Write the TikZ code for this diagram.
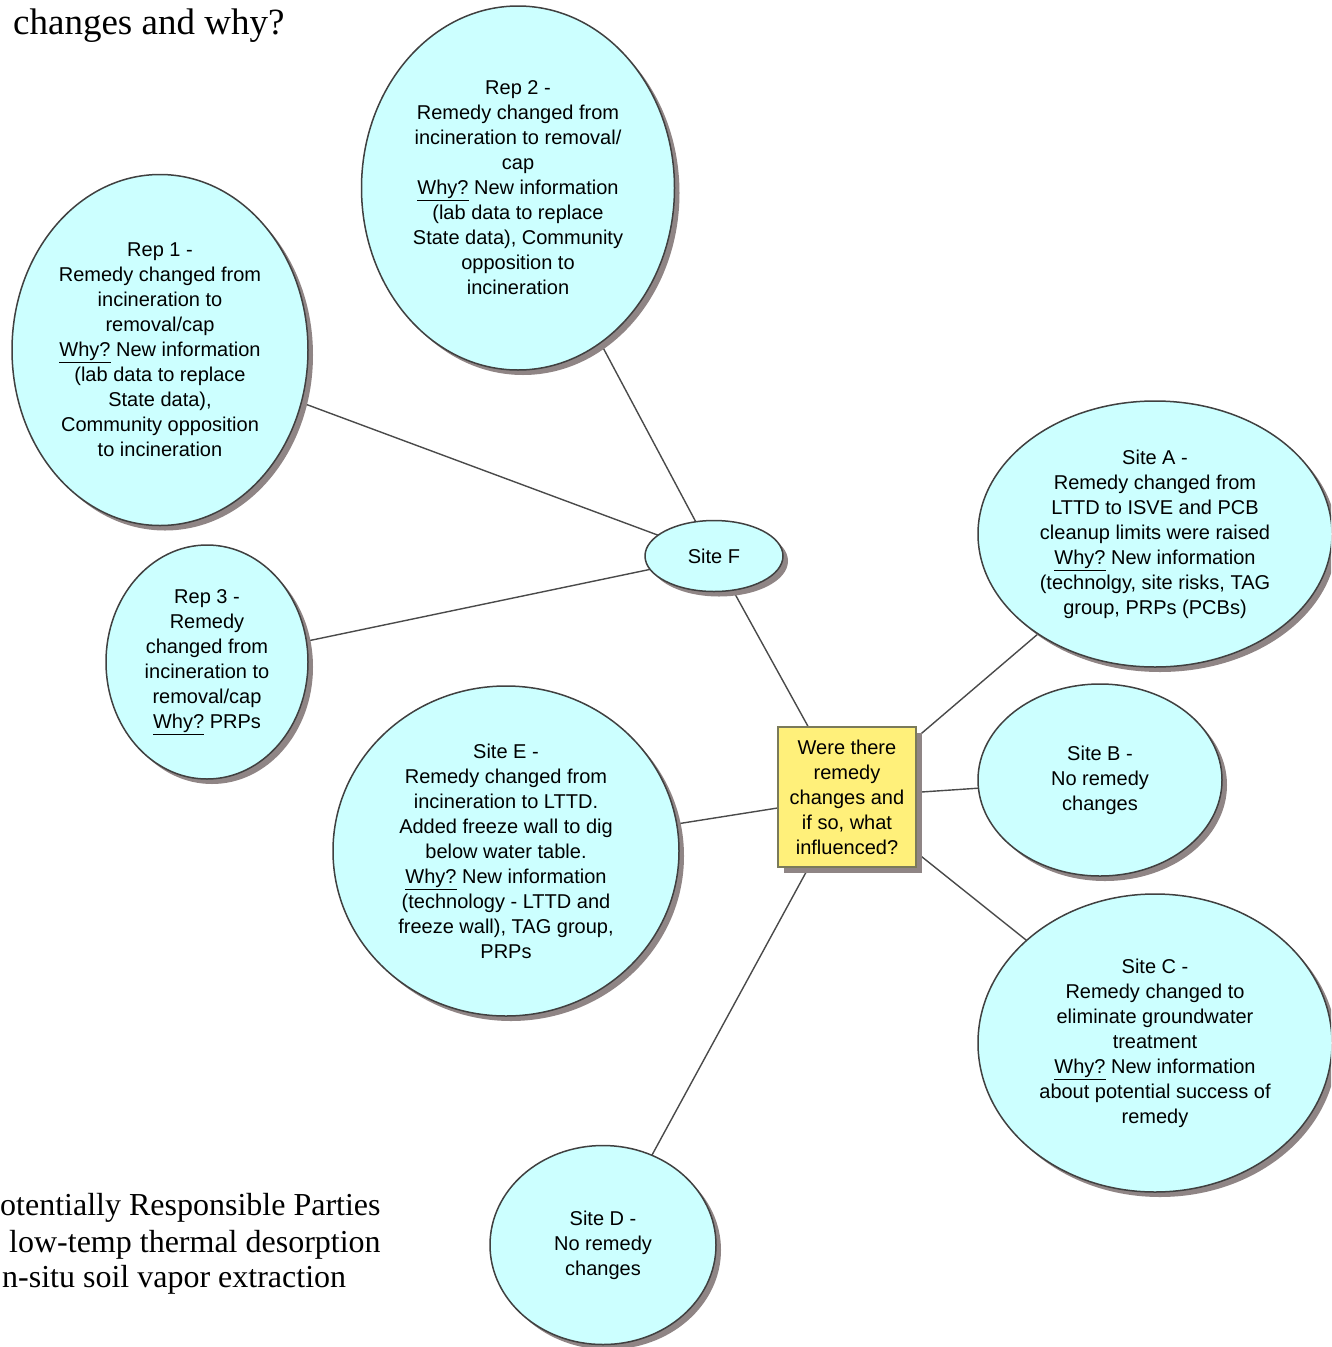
\documentclass[tikz,border=0pt]{standalone}
\usepackage{fontspec}
\setmainfont{Liberation Sans}
\newfontfamily\serifface{Liberation Serif}
\usetikzlibrary{shapes.geometric,shadows,backgrounds}

\definecolor{bubblefill}{HTML}{CCFFFF}
\definecolor{bubbleline}{HTML}{404040}
\definecolor{shadowgray}{HTML}{8F8585}
\definecolor{notefill}{HTML}{FFF07A}
\definecolor{noteline}{HTML}{7A7A5A}
\definecolor{linkgray}{HTML}{4A4A4A}

\begin{document}
\begin{tikzpicture}[x=1pt,y=-1pt,
  bubble/.style={ellipse, draw=bubbleline, line width=1.5pt, fill=bubblefill,
    inner sep=0pt, align=center, font=\fontsize{20}{25}\selectfont,
    drop shadow={shadow xshift=5pt, shadow yshift=-5pt, fill=shadowgray, opacity=1}},
  note/.style={rectangle, draw=noteline, line width=2pt, fill=notefill,
    inner sep=0pt, align=center, font=\fontsize{20}{25}\selectfont,
    drop shadow={shadow xshift=6pt, shadow yshift=-6pt, fill=shadowgray, opacity=1}},
  link/.style={draw=linkgray, line width=1.4pt},
  serifline/.style={anchor=base west, inner sep=0pt, font=\serifface\fontsize{32}{37}\selectfont},
]
\clip (0,0) rectangle (1331,1347);

% text fragments at the edges
\node[anchor=base west, inner sep=0pt, font=\serifface\fontsize{37}{44}\selectfont] (title) at (13,34) {changes and why?};
\node[serifline] (gloss1) at (0,1215) {otentially Responsible Parties};
\node[serifline] (gloss2) at (9,1252) {low-temp thermal desorption};
\node[serifline] (gloss3) at (2,1287) {n-situ soil vapor extraction};

% central question
\node[note, minimum width=138pt, minimum height=140pt] (hub) at (847,797)
  {Were there\\remedy\\changes and\\if so, what\\influenced?};

% bubbles
\node[bubble, minimum width=313pt, minimum height=364pt] (rep2) at (518,188)
  {Rep 2 -\\Remedy changed from\\incineration to removal/\\cap\\\underline{Why?} New information\\(lab data to replace\\State data), Community\\opposition to\\incineration};
\node[bubble, minimum width=296pt, minimum height=351pt] (rep1) at (160,350)
  {Rep 1 -\\Remedy changed from\\incineration to\\removal/cap\\\underline{Why?} New information\\(lab data to replace\\State data),\\Community opposition\\to incineration};
\node[bubble, minimum width=202pt, minimum height=234pt] (rep3) at (207,662)
  {Rep 3 -\\Remedy\\changed from\\incineration to\\removal/cap\\\underline{Why?} PRPs};
\node[bubble, minimum width=138pt, minimum height=71pt] (siteF) at (714,556) {Site F};
\node[bubble, minimum width=354pt, minimum height=266pt] (siteA) at (1155,534)
  {Site A -\\Remedy changed from\\LTTD to ISVE and PCB\\cleanup limits were raised\\\underline{Why?} New information\\(technolgy, site risks, TAG\\group, PRPs (PCBs)};
\node[bubble, minimum width=244pt, minimum height=192pt] (siteB) at (1100,780)
  {Site B -\\No remedy\\changes};
\node[bubble, minimum width=354pt, minimum height=298pt] (siteC) at (1155,1043)
  {Site C -\\Remedy changed to\\eliminate groundwater\\treatment\\\underline{Why?} New information\\about potential success of\\remedy};
\node[bubble, minimum width=226pt, minimum height=199pt] (siteD) at (603,1245)
  {Site D -\\No remedy\\changes};
\node[bubble, minimum width=346pt, minimum height=330pt] (siteE) at (506,851)
  {Site E -\\Remedy changed from\\incineration to LTTD.\\Added freeze wall to dig\\below water table.\\\underline{Why?} New information\\(technology - LTTD and\\freeze wall), TAG group,\\PRPs};

% connectors behind the shapes
\begin{scope}[on background layer]
  \fill[white] (0,0) rectangle (1331,1347);
  \draw[link] (rep2.center) -- (siteF.center);
  \draw[link] (rep1.center) -- (siteF.center);
  \draw[link] (rep3.center) -- (siteF.center);
  \draw[link] (siteF.center) -- (hub.center);
  \draw[link] (hub.center) -- (siteA.center);
  \draw[link] (hub.center) -- (siteB.center);
  \draw[link] (hub.center) -- (siteC.center);
  \draw[link] (hub.center) -- (siteD.center);
  \draw[link] (hub.center) -- (siteE.center);
\end{scope}
\end{tikzpicture}
\end{document}
